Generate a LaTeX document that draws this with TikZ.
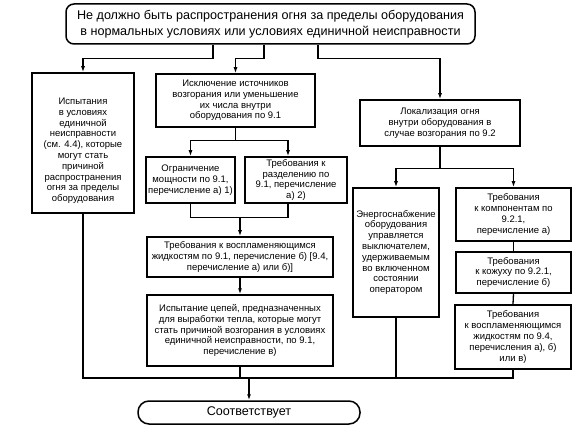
\documentclass[tikz,border=0pt]{standalone}
\usepackage{fontspec}
\setmainfont{Liberation Sans}
\usetikzlibrary{arrows.meta}
\begin{document}
\begin{tikzpicture}[x=1pt,y=-1pt,
  box/.style={draw,line width=1.5pt,inner sep=0pt,align=center,font=\fontsize{9.5}{10.8}\selectfont},
  bigtext/.style={font=\fontsize{12.6}{15.5}\selectfont},
  ln/.style={line width=1.3pt},
  arr/.style={ln,-{Latex[length=6pt,width=4pt]}}]
\useasboundingbox (0,0) rectangle (587,433);
\node[box,bigtext,rounded corners=8pt,minimum width=409pt,minimum height=40pt] (top) at (270.5,24)
  {Не должно быть распространения огня за пределы оборудования\\в нормальных условиях или условиях единичной неисправности};
\node[box,minimum width=102pt,minimum height=140pt] (left) at (83,143)
  {\rule{0pt}{22pt}Испытания\\в условиях\\единичной\\неисправности\\(см. 4.4), которые\\могут стать\\причиной\\распространения\\огня за пределы\\оборудования};
\node[box,minimum width=159pt,minimum height=53pt] (mid) at (235.5,100.5)
  {Исключение источников\\возгорания или уменьшение\\их числа внутри\\оборудования по 9.1};
\node[box,minimum width=160pt,minimum height=46pt] (right) at (440,123)
  {Локализация огня\\внутри оборудования в\\случае возгорания по 9.2};
\node[box,minimum width=89pt,minimum height=46pt] (lim) at (190.5,180)
  {Ограничение\\мощности по 9.1,\\перечисление а) 1)};
\node[box,minimum width=102pt,minimum height=46pt] (sep) at (296,180)
  {Требования к\\разделению по\\9.1, перечисление\\а) 2)};
\node[box,minimum width=186pt,minimum height=40pt] (liq) at (240,257)
  {Требования к воспламеняющимся\\жидкостям по 9.1, перечисление б) [9.4,\\перечисление а) или б)]};
\node[box,minimum width=186pt,minimum height=71pt] (circ) at (240,330.5)
  {Испытание цепей, предназначенных\\для выработки тепла, которые могут\\стать причиной возгорания в условиях\\единичной неисправности, по 9.1,\\перечисление в)};
\node[box,minimum width=86pt,minimum height=129pt] (energy) at (396,252.5)
  {Энергоснабжение\\оборудования\\управляется\\выключателем,\\удерживаемым\\во включенном\\состоянии\\оператором};
\node[box,minimum width=115pt,minimum height=53pt] (comp) at (513.5,214.5)
  {Требования\\к компонентам по\\9.2.1,\\перечисление а)};
\node[box,minimum width=115pt,minimum height=41pt] (case) at (513.5,272.5)
  {Требования\\к кожуху по 9.2.1,\\перечисление б)};
\node[box,minimum width=116pt,minimum height=64pt] (liqb) at (513,337)
  {Требования\\к воспламеняющимся\\жидкостям по 9.4,\\перечисления а), б)\\или в)};
\node[box,bigtext,rounded corners=11pt,minimum width=222pt,minimum height=23pt] (final) at (249,412.5)
  {Соответствует};
% top connectors
\draw[arr] (top.south -| 213,0) -- ++(0,14) -| (left.north);
\draw[arr] (top.south -| 264,0) -- ++(0,14) -| (mid.north);
\draw[arr] (top.south -| 318,0) -- ++(0,14) -| (right.north);
% middle branch
\draw[ln] (mid.south) -- ++(0,13) coordinate (mj);
\draw[arr] (mj) -| (lim.north);
\draw[arr] (mj) -| (sep.north -| 288,0);
\draw[ln] (lim.south) -- ++(0,14) coordinate (lj) -| (sep.south -| 288,0);
\draw[arr] (lj -| liq.north) -- (liq.north);
\draw[arr] (liq.south) -- (circ.north);
% right branch
\draw[ln] (right.south) -- ++(0,22) coordinate (rj);
\draw[arr] (rj) -| (energy.north);
\draw[arr] (rj) -| (comp.north);
\draw[ln] (comp.south) -- (case.north);
\draw[ln] (case.south) -- (liqb.north);
% bottom collector
\coordinate (bl) at (left.south |- 0,378);
\draw[ln] (left.south) -- (bl) -- (bl -| liqb.south) -- (liqb.south);
\draw[ln] (circ.south) -- (circ.south |- bl);
\draw[ln] (energy.south) -- (energy.south |- bl);
\draw[arr] (bl -| final.north) -- (final.north);
\end{tikzpicture}
\end{document}
